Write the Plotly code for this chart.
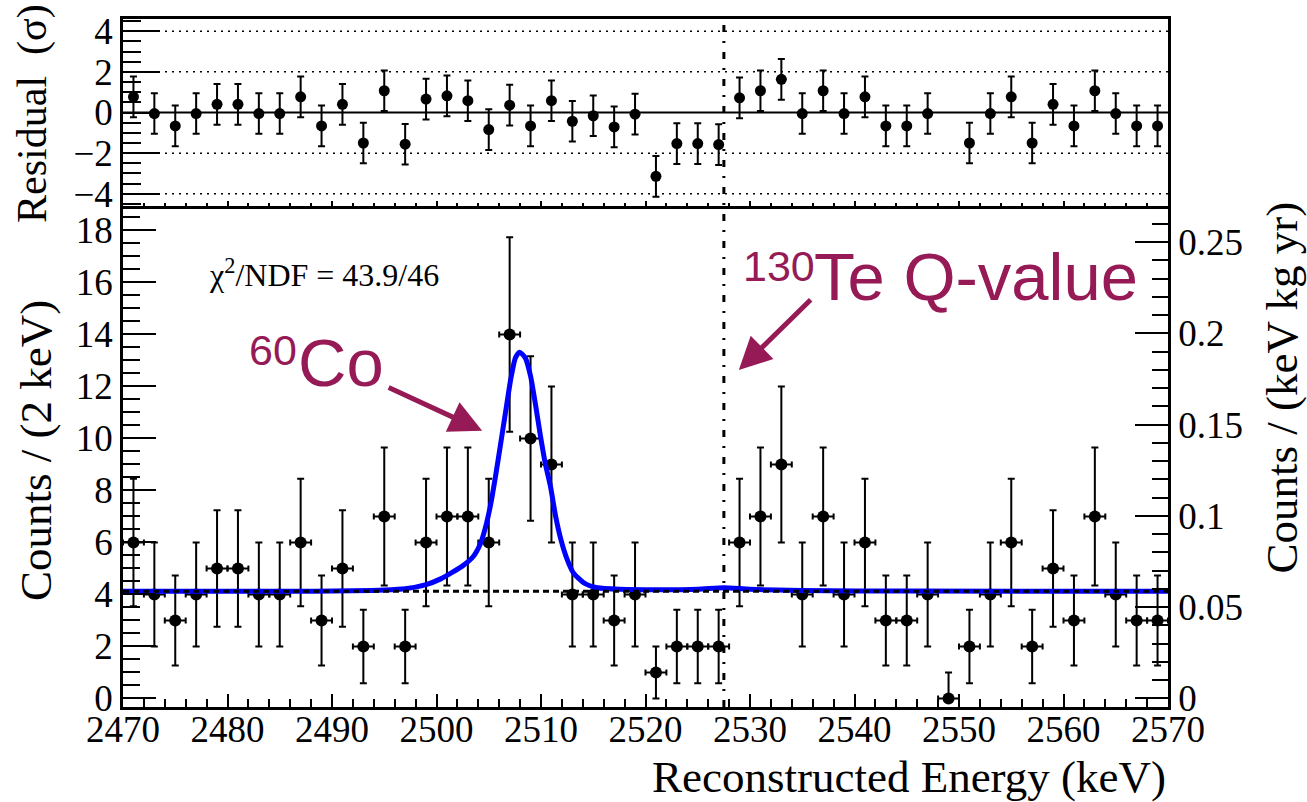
import plotly.graph_objects as go

# ---------------- data ----------------
ENERGY_KEV = [2471, 2473, 2475, 2477, 2479, 2481, 2483, 2485, 2487, 2489,
              2491, 2493, 2495, 2497, 2499, 2501, 2503, 2505, 2507, 2509,
              2511, 2513, 2515, 2517, 2519, 2521, 2523, 2525, 2527, 2529,
              2531, 2533, 2535, 2537, 2539, 2541, 2543, 2545, 2547, 2549,
              2551, 2553, 2555, 2557, 2559, 2561, 2563, 2565, 2567, 2569]

COUNTS = [6, 4, 3, 4, 5, 5, 4, 4, 6, 3,
          5, 2, 7, 2, 6, 7, 7, 6, 14, 10,
          9, 4, 4, 3, 4, 1, 2, 2, 2, 6,
          7, 9, 4, 7, 4, 6, 3, 3, 4, 0,
          2, 4, 6, 2, 5, 3, 7, 4, 3, 3]

COUNTS_ERR_UP = [2.45, 2.0, 1.73, 2.0, 2.24, 2.24, 2.0, 2.0, 2.45, 1.73,
                 2.24, 1.41, 2.65, 1.41, 2.45, 2.65, 2.65, 2.45, 3.74, 3.16,
                 3.0, 2.0, 2.0, 1.73, 2.0, 1.0, 1.41, 1.41, 1.41, 2.45,
                 2.65, 3.0, 2.0, 2.65, 2.0, 2.45, 1.73, 1.73, 2.0, 1.0,
                 1.41, 2.0, 2.45, 1.41, 2.24, 1.73, 2.65, 2.0, 1.73, 1.73]

COUNTS_ERR_DOWN = [2.45, 2.0, 1.73, 2.0, 2.24, 2.24, 2.0, 2.0, 2.45, 1.73,
                   2.24, 1.41, 2.65, 1.41, 2.45, 2.65, 2.65, 2.45, 3.74, 3.16,
                   3.0, 2.0, 2.0, 1.73, 2.0, 1.0, 1.41, 1.41, 1.41, 2.45,
                   2.65, 3.0, 2.0, 2.65, 2.0, 2.45, 1.73, 1.73, 2.0, 0.0,
                   1.41, 2.0, 2.45, 1.41, 2.24, 1.73, 2.65, 2.0, 1.73, 1.73]

BIN_HALF_WIDTH = 1.0

RESIDUALS = [0.77, -0.05, -0.66, -0.05, 0.40, 0.40, -0.05, -0.05, 0.77, -0.66,
             0.40, -1.50, 1.07, -1.56, 0.66, 0.82, 0.58, -0.84, 0.36, -0.66,
             0.58, -0.43, -0.16, -0.71, -0.08, -3.14, -1.53, -1.53, -1.58, 0.72,
             1.07, 1.63, -0.05, 1.07, -0.05, 0.77, -0.66, -0.66, -0.05, None,
             -1.50, -0.05, 0.77, -1.50, 0.40, -0.66, 1.07, -0.05, -0.66, -0.66]
RESIDUAL_ERR = 1.0

# fit curve
FIT_ENERGY = [2470, 2485, 2492, 2495, 2497, 2499, 2500.4, 2501.5, 2502.5, 2503.5,
              2504.2, 2504.7, 2505.2, 2505.65, 2506.1, 2506.6, 2507.1, 2507.55, 2507.95, 2508.5,
              2509.0, 2509.5, 2509.95, 2510.4, 2510.9, 2511.4, 2511.9, 2512.5, 2513.1, 2514.1,
              2515.4, 2517.6, 2521, 2525, 2527.5, 2530, 2535, 2545, 2570]
FIT_COUNTS = [4.12, 4.12, 4.14, 4.17, 4.22, 4.38, 4.60, 4.85, 5.10, 5.45,
              5.95, 6.60, 7.50, 8.55, 9.70, 10.99, 12.27, 13.10, 13.32, 13.10,
              12.40, 11.24, 10.09, 9.06, 8.17, 7.01, 6.12, 5.35, 4.83, 4.45,
              4.26, 4.20, 4.18, 4.20, 4.26, 4.20, 4.15, 4.13, 4.12]

BKG_LEVEL = 4.12
Q_VALUE_KEV = 2527.5

X_RANGE = [2470, 2570]
Y_RANGE = [-0.327, 18.94]
RES_RANGE = [-4.6, 4.6]
RATE_PER_COUNT = 0.014245      # counts/(2 keV) -> counts/(keV kg yr)
RES_GRID = [-4, -2, 2, 4]

CHI2_TEXT = "χ<sup>2</sup>/NDF = 43.9/46"

# ---------------- styles ----------------
MAG = "#961a55"
SERIF = "Liberation Serif, Times New Roman, serif"
SANS = "Liberation Sans, Arial, sans-serif"
TICKFONT = dict(family=SERIF, size=37, color="black")
TITLEFONT = dict(family=SERIF, size=45, color="black")

SPLIT = 0.7282

fig = go.Figure()

# data points
fig.add_trace(go.Scatter(
    x=ENERGY_KEV, y=COUNTS, mode="markers",
    marker=dict(color="black", size=12),
    error_y=dict(type="data", symmetric=False, array=COUNTS_ERR_UP,
                 arrayminus=COUNTS_ERR_DOWN, color="black", thickness=2, width=3.5),
    error_x=dict(type="constant", value=BIN_HALF_WIDTH, color="black",
                 thickness=2, width=3),
    xaxis="x", yaxis="y", showlegend=False, hoverinfo="skip"))

# fit curve
fig.add_trace(go.Scatter(
    x=FIT_ENERGY, y=FIT_COUNTS, mode="lines",
    line=dict(color="#0000ff", width=5, shape="spline", smoothing=0.6),
    xaxis="x", yaxis="y", showlegend=False, hoverinfo="skip"))

# background level
fig.add_trace(go.Scatter(
    x=X_RANGE, y=[BKG_LEVEL, BKG_LEVEL], mode="lines",
    line=dict(color="black", width=3, dash="6px,4px"),
    xaxis="x", yaxis="y", showlegend=False, hoverinfo="skip"))

# dummy for right axis
fig.add_trace(go.Scatter(x=[], y=[], xaxis="x", yaxis="y3",
                         showlegend=False, hoverinfo="skip"))

# residuals
fig.add_trace(go.Scatter(
    x=ENERGY_KEV, y=RESIDUALS, mode="markers",
    marker=dict(color="black", size=11),
    error_y=dict(type="constant", value=RESIDUAL_ERR, color="black",
                 thickness=2, width=3.5),
    xaxis="x2", yaxis="y2", showlegend=False, hoverinfo="skip"))

shapes = []
for g in RES_GRID:
    shapes.append(dict(type="line", xref="x2 domain", x0=0, x1=1, yref="y2", y0=g, y1=g,
                       line=dict(color="black", width=1.5, dash="2px,5px"), layer="below"))
shapes.append(dict(type="line", xref="x2 domain", x0=0, x1=1, yref="y2", y0=0, y1=0,
                   line=dict(color="black", width=2), layer="below"))
shapes.append(dict(type="line", xref="x", x0=Q_VALUE_KEV, x1=Q_VALUE_KEV, yref="paper", y0=0, y1=1,
                   line=dict(color="black", width=3, dash="7px,9px,2px,9px"), layer="above"))

# arrows drawn as shapes (shaft + head)
ARROW_CO = dict(tail=(2495.28, 11.99), tip=(2504.37, 10.30))
ARROW_TE = dict(tail=(2535.95, 15.39), tip=(2528.93, 12.63))

common_axis = dict(showline=True, linewidth=2.5, linecolor="black", showgrid=False,
                   zeroline=False, ticks="inside", tickcolor="black", tickwidth=2)

annotations = [
    dict(text=CHI2_TEXT, x=2478.0, y=16.37, xref="x", yref="y", xanchor="left", yanchor="middle",
         showarrow=False, font=dict(family=SERIF, size=32, color="black")),
    dict(text="60", x=2481.9, y=13.40, xref="x", yref="y", xanchor="left", yanchor="middle",
         showarrow=False, font=dict(family=SANS, size=43, color=MAG)),
    dict(text="Co", x=2486.6, y=12.94, xref="x", yref="y", xanchor="left", yanchor="middle",
         showarrow=False, font=dict(family=SANS, size=67, color=MAG)),
    dict(text="130", x=2529.1, y=16.63, xref="x", yref="y", xanchor="left", yanchor="middle",
         showarrow=False, font=dict(family=SANS, size=43, color=MAG)),
    dict(text="Te Q-value", x=2535.9, y=16.21, xref="x", yref="y", xanchor="left", yanchor="middle",
         showarrow=False, font=dict(family=SANS, size=67, color=MAG)),
    dict(text=" ", x=ARROW_CO["tip"][0], y=ARROW_CO["tip"][1], xref="x", yref="y",
         ax=ARROW_CO["tail"][0], ay=ARROW_CO["tail"][1], axref="x", ayref="y",
         showarrow=True, arrowhead=2, arrowsize=1.3, arrowwidth=5, arrowcolor=MAG,
         font=dict(size=1)),
    dict(text=" ", x=ARROW_TE["tip"][0], y=ARROW_TE["tip"][1], xref="x", yref="y",
         ax=ARROW_TE["tail"][0], ay=ARROW_TE["tail"][1], axref="x", ayref="y",
         showarrow=True, arrowhead=2, arrowsize=1.3, arrowwidth=5, arrowcolor=MAG,
         font=dict(size=1)),
    # axis titles
    dict(text="Reconstructed Energy (keV)", x=1.0, y=-0.1017, xref="paper", yref="paper",
         xanchor="right", yanchor="middle", showarrow=False, font=TITLEFONT),
    dict(text="Counts / (2 keV)", x=-0.0833, y=0.3735, xref="paper", yref="paper",
         xanchor="center", yanchor="middle", textangle=-90, showarrow=False, font=TITLEFONT),
    dict(text="Residual\u00a0\u00a0(σ)", x=-0.0862, y=0.8634, xref="paper", yref="paper",
         xanchor="center", yanchor="middle", textangle=-90, showarrow=False,
         font=dict(family=SERIF, size=42, color="black")),
    dict(text="Counts / (keV kg yr)", x=1.1095, y=0.4651, xref="paper", yref="paper",
         xanchor="center", yanchor="middle", textangle=-90, showarrow=False, font=TITLEFONT),
]

fig.update_layout(
    width=1307, height=802, autosize=False,
    margin=dict(l=123, r=139, t=19, b=95, pad=0),
    paper_bgcolor="white", plot_bgcolor="white",
    showlegend=False,
    xaxis=dict(domain=[0, 1], range=X_RANGE, anchor="y", tickmode="linear", tick0=2470, dtick=10,
               ticklen=13, minor=dict(ticks="inside", dtick=2, ticklen=8, tickwidth=2, tickcolor="black"),
               mirror=False, tickfont=TICKFONT, ticklabelstandoff=-12, **common_axis),
    yaxis=dict(domain=[0, SPLIT], range=Y_RANGE, anchor="x", tickmode="linear", tick0=0, dtick=2,
               ticklen=33, minor=dict(ticks="inside", dtick=0.5, ticklen=17, tickwidth=2, tickcolor="black"),
               tickfont=TICKFONT, **common_axis),
    yaxis3=dict(overlaying="y", side="right", anchor="x",
                range=[Y_RANGE[0] * RATE_PER_COUNT, Y_RANGE[1] * RATE_PER_COUNT],
                tickmode="linear", tick0=0, dtick=0.05, ticklen=33,
                minor=dict(ticks="inside", dtick=0.01, ticklen=16, tickwidth=2, tickcolor="black"),
                tickfont=TICKFONT, **common_axis),
    xaxis2=dict(domain=[0, 1], range=X_RANGE, anchor="y2", matches="x", showticklabels=False,
                tickmode="linear", tick0=2470, dtick=10, ticklen=5,
                minor=dict(ticks="inside", dtick=2, ticklen=3, tickwidth=2, tickcolor="black"),
                mirror=True, **common_axis),
    yaxis2=dict(domain=[SPLIT, 1], range=RES_RANGE, anchor="x2", tickmode="linear", tick0=0, dtick=2,
                ticklen=37, minor=dict(ticks="inside", dtick=0.5, ticklen=18, tickwidth=2, tickcolor="black"),
                mirror=True, tickfont=TICKFONT, **common_axis),
    shapes=shapes,
    annotations=annotations,
)

fig.write_html("out.html")
